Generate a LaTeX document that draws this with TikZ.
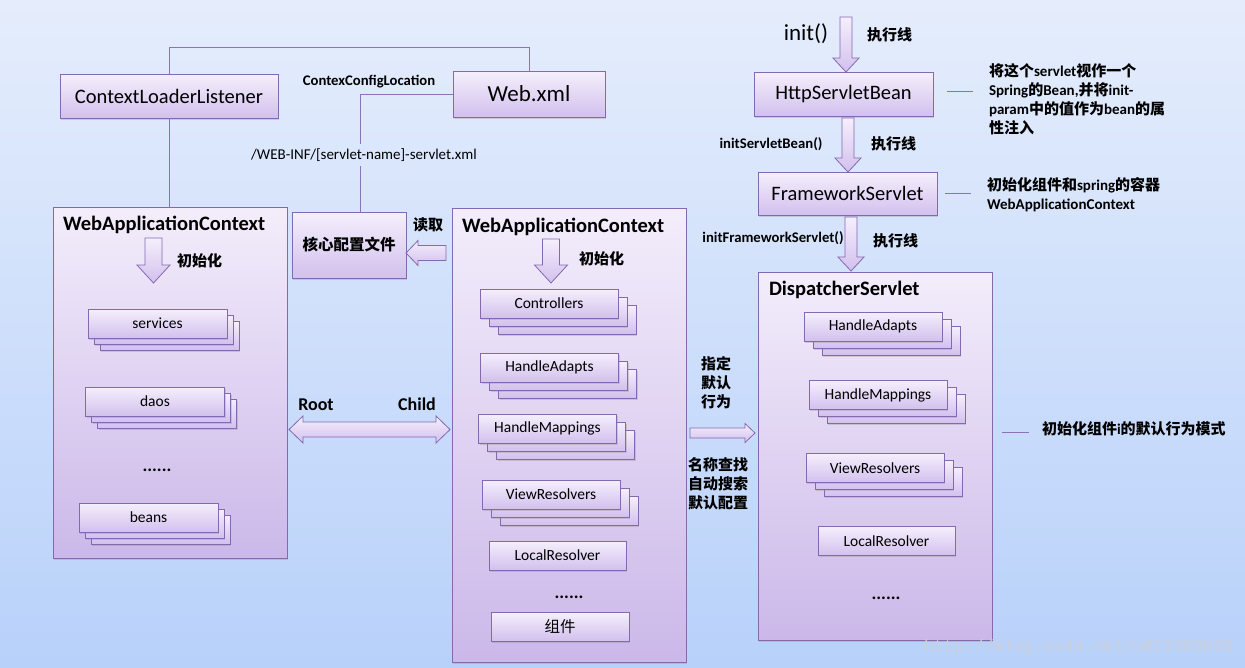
\documentclass[tikz,border=0pt]{standalone}
\usepackage{fontspec}
\setmainfont{Carlito}
\newfontfamily\cjk{Noto Sans CJK SC}
\newfontfamily\wmfont{Liberation Mono}
\usetikzlibrary{calc,shadows}

\definecolor{bgtop}{RGB}{229,237,252}
\definecolor{bgbot}{RGB}{184,209,250}
\definecolor{bxtop}{RGB}{245,239,252}
\definecolor{bxbot}{RGB}{210,192,238}
\definecolor{bigtop}{RGB}{243,237,251}
\definecolor{bigbot}{RGB}{203,184,233}
\definecolor{edge}{RGB}{132,104,176}
\definecolor{lnk}{RGB}{140,115,185}
\definecolor{wm}{RGB}{203,207,219}

\newcommand\zh[1]{{\cjk #1}}

\tikzset{
  every node/.style={inner sep=0pt,outer sep=0pt},
  shadowed/.style={drop shadow={shadow xshift=1.3pt,shadow yshift=-1.6pt,opacity=.28}},
  box/.style={draw=edge,line width=0.9pt,top color=bxtop,bottom color=bxbot,shadowed},
  sbox/.style={box,minimum height=29pt,font=\fontsize{15.5}{17}\selectfont},
  bigbox/.style={draw=edge,line width=0.9pt,top color=bigtop,bottom color=bigbot,shadowed},
  conn/.style={draw=lnk,line width=1pt},
  title/.style={font=\bfseries\fontsize{20.5}{22}\selectfont},
  lbl/.style={font=\bfseries\fontsize{15}{19}\selectfont},
  lblsm/.style={font=\bfseries\fontsize{14.7}{17}\selectfont},
  lblroot/.style={font=\bfseries\fontsize{18}{20}\selectfont},
  dots/.style={font=\bfseries\fontsize{18}{20}\selectfont},
  barrow/.style={draw=edge,line width=0.8pt,top color=bxtop,bottom color=bxbot},
  bdown/.style n args={3}{barrow,to path={let \p1=(\tikztostart),\p2=(\tikztotarget) in
    (\x1-#1,\y1) -- (\x1+#1,\y1) -- (\x1+#1,\y2+#3) -- (\x1+#2,\y2+#3) -- (\x1,\y2)
    -- (\x1-#2,\y2+#3) -- (\x1-#1,\y2+#3) -- cycle}},
  bright/.style n args={3}{barrow,to path={let \p1=(\tikztostart),\p2=(\tikztotarget) in
    (\x1,\y1+#1) -- (\x2-#3,\y1+#1) -- (\x2-#3,\y1+#2) -- (\x2,\y1) -- (\x2-#3,\y1-#2)
    -- (\x2-#3,\y1-#1) -- (\x1,\y1-#1) -- cycle}},
  bleft/.style n args={3}{barrow,to path={let \p1=(\tikztostart),\p2=(\tikztotarget) in
    (\x1,\y1+#1) -- (\x2+#3,\y1+#1) -- (\x2+#3,\y1+#2) -- (\x2,\y1) -- (\x2+#3,\y1-#2)
    -- (\x2+#3,\y1-#1) -- (\x1,\y1-#1) -- cycle}},
  bdouble/.style n args={3}{barrow,to path={let \p1=(\tikztostart),\p2=(\tikztotarget) in
    (\x1,\y1) -- (\x1+#3,\y1+#2) -- (\x1+#3,\y1+#1) -- (\x2-#3,\y1+#1) -- (\x2-#3,\y1+#2)
    -- (\x2,\y1) -- (\x2-#3,\y1-#2) -- (\x2-#3,\y1-#1) -- (\x1+#3,\y1-#1) -- (\x1+#3,\y1-#2) -- cycle}},
}

% stacked box: name, x, y, width, dx, dy, text
\newcommand\stk[7]{%
  \node[sbox,minimum width=#4] (#1-c) at ({#2+2*#5},{#3+2*#6}) {};
  \node[sbox,minimum width=#4] (#1-b) at ({#2+#5},{#3+#6}) {};
  \node[sbox,minimum width=#4] (#1) at (#2,#3) {#7};
}

\begin{document}
\begin{tikzpicture}[x=1pt,y=-1pt]
\useasboundingbox (0,0) rectangle (1245,667);
\shade[top color=bgtop,bottom color=bgbot] (0,0) rectangle (1245,667);

% ---- top left: ContextLoaderListener / Web.xml ----
\node[box,minimum width=218pt,minimum height=44pt,font=\fontsize{20.5}{22}\selectfont] (cll) at (169,96) {ContextLoaderListener};
\node[box,minimum width=152pt,minimum height=46pt,font=\fontsize{23}{25}\selectfont] (webxml) at (529,94) {Web.xml};
\node[lblsm] (ccl) at (369,82) {ContexConfigLocation};
\node[font=\fontsize{15}{17}\selectfont,inner sep=5pt] (wlabel) at (364,155) {/WEB-INF/[servlet-name]-servlet.xml};
\node[box,minimum width=114pt,minimum height=66pt,font=\bfseries\fontsize{15.5}{17}\selectfont] (hexin) at (349,245) {\zh{核心配置文件}};

\draw[conn] (cll.north) -- ++(0,-27) -| (webxml.north);
\coordinate (jA) at (360,94);
\draw[conn] (webxml.west) -- (jA) -- (jA |- wlabel.north);
\draw[conn] (jA |- wlabel.south) -- (jA |- hexin.north);

% ---- big containers ----
\node[bigbox,minimum width=234pt,minimum height=351pt] (lwac) at (170,382.5) {};
\node[title,anchor=west] (lwact) at (63,225) {WebApplicationContext};
\node[bigbox,minimum width=234pt,minimum height=454pt] (mwac) at (569,435) {};
\node[title,anchor=west] (mwact) at (462,227) {WebApplicationContext};
\node[bigbox,minimum width=234pt,minimum height=368pt] (disp) at (875,456) {};
\node[title,anchor=west] (dispt) at (769,290) {DispatcherServlet};

\draw[conn] (cll.south) -- (cll.south |- lwac.north);

% ---- read arrow ----
\node[lbl] (duqu) at (428,225) {\zh{读取}};
\coordinate (rd) at (0,253);
\path[bleft={7.5pt}{12.5pt}{12pt}] ($(mwac.west |- rd)+(-6,0)$) to (hexin.east |- rd);

% ---- left container content ----
\coordinate (la1) at (153.5,238);
\coordinate (la2) at (153.5,283);
\path[bdown={8.5pt}{16.5pt}{18pt}] (la1) to (la2);
\node[lbl,anchor=west] (linit) at (177,261) {\zh{初始化}};
\stk{services}{157.5}{323.5}{139pt}{6}{6}{services}
\stk{daos}{155}{401.5}{139pt}{6}{6}{daos}
\node[dots] (ldots) at (157,470) {......};
\stk{beans}{148.5}{517.5}{139pt}{6}{6}{beans}

% ---- Root / Child ----
\node[lblroot] (root) at (316,405) {Root};
\node[lblroot] (child) at (417,404) {Child};
\coordinate (rc) at (0,429.5);
\path[bdouble={7.5pt}{13.5pt}{14pt}] ($(lwac.east |- rc)+(2,0)$) to ($(mwac.west |- rc)+(-2,0)$);

% ---- middle container content ----
\coordinate (ma1) at (551,239);
\coordinate (ma2) at (551,283);
\path[bdown={8.5pt}{16.5pt}{18pt}] (ma1) to (ma2);
\node[lbl,anchor=west] (minit) at (579,259) {\zh{初始化}};
\stk{mctrl}{549}{303.5}{138pt}{9}{8}{Controllers}
\stk{mha}{549.5}{367.5}{138pt}{9}{8}{HandleAdapts}
\stk{mhm}{547.5}{428.5}{138pt}{9}{8}{HandleMappings}
\stk{mvr}{551}{494.5}{138pt}{9}{8}{ViewResolvers}
\node[sbox,minimum width=137pt] (mlr) at (557.5,555.5) {LocalResolver};
\node[dots] (mdots) at (569,597) {......};
\node[sbox,minimum width=138pt] (zujian) at (560,626.5) {\zh{组件}};

% ---- middle labels and arrow to DispatcherServlet ----
\node[lbl,align=center] (zhiding) at (716,383) {\zh{指定}\\\zh{默认}\\\zh{行为}};
\node[lbl,align=center] (mingcheng) at (718,484) {\zh{名称查找}\\\zh{自动搜索}\\\zh{默认配置}};
\coordinate (ra) at (0,433);
\path[bright={5pt}{9.5pt}{10pt}] ($(mwac.east |- ra)+(4,0)$) to ($(disp.west |- ra)+(-3,0)$);

% ---- right column ----
\node[font=\fontsize{23}{25}\selectfont] (init) at (806,34) {init()};
\node[box,minimum width=179pt,minimum height=44pt,font=\fontsize{20.5}{22}\selectfont] (hsb) at (843.5,94) {HttpServletBean};
\node[box,minimum width=179pt,minimum height=43pt,font=\fontsize{20.5}{22}\selectfont] (fws) at (847.5,193.5) {FrameworkServlet};
\coordinate (initTop) at (846,17);
\path[bdown={6pt}{13pt}{14pt}] (initTop) to (initTop |- hsb.north);
\path[bdown={6pt}{13pt}{14pt}] ($(hsb.south)+(4.5,2)$) to (fws.north);
\path[bdown={6pt}{13pt}{14pt}] ($(fws.south)+(3.5,2)$) to ($(disp.north)+(0,-1)$);
\node[lbl,anchor=west] (ex1) at (867,35) {\zh{执行线}};
\node[lbl,anchor=west] (ex2) at (871,144) {\zh{执行线}};
\node[lbl,anchor=west] (ex3) at (873,241) {\zh{执行线}};
\node[lblsm] (isb) at (771,144) {initServletBean()};
\node[lblsm] (ifs) at (773,238) {initFrameworkServlet()};

\node[lbl,anchor=west,align=left] (note1) at (989,99.5) {\zh{将这个}servlet\zh{视作一个}\\Spring\zh{的}Bean,\zh{并将}init-\\param\zh{中的值作为}bean\zh{的属}\\\zh{性注入}};
\draw[conn] ($(hsb.east)+(14,-3)$) -- ++(26,0);
\node[lbl,anchor=west,align=left] (note2) at (987,194.5) {\zh{初始化组件和}spring\zh{的容器}\\WebApplicationContext};
\draw[conn] ($(fws.east)+(8,0)$) -- ++(26,0);

\stk{dha}{873}{326.5}{138pt}{9}{7}{HandleAdapts}
\stk{dhm}{878}{395}{138pt}{9}{7}{HandleMappings}
\stk{dvr}{875}{468}{138pt}{9}{7}{ViewResolvers}
\node[sbox,minimum width=137pt] (dlr) at (886.5,541) {LocalResolver};
\node[dots] (ddots) at (886,598) {......};

\node[lbl,anchor=west] (note3) at (1042,429) {\zh{初始化组件}i\zh{的默认行为模式}};
\draw[conn] ($(disp.east |- note3.west)+(10,3)$) -- ++(27,0);

\node[font=\wmfont\fontsize{16.6}{18}\selectfont,text=wm,anchor=west] (wmark) at (924,647) {http://blog.csdn.net/u013399093};
\end{tikzpicture}
\end{document}
